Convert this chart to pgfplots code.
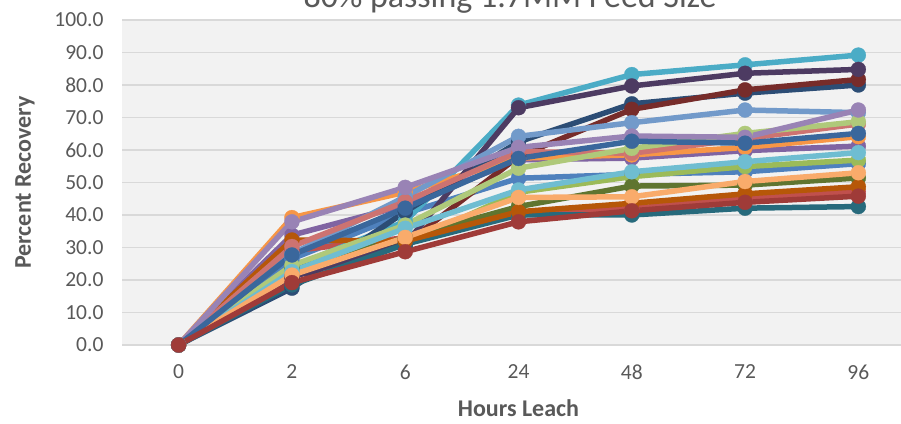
\documentclass[border=0pt]{standalone}
\usepackage{fontspec}
\setmainfont{Carlito}
\usepackage{pgfplots}
\pgfplotsset{compat=1.18}
\definecolor{c1}{HTML}{4F81BD}
\definecolor{c2}{HTML}{C0504D}
\definecolor{c3}{HTML}{9BBB59}
\definecolor{c4}{HTML}{8064A2}
\definecolor{c5}{HTML}{4BACC6}
\definecolor{c6}{HTML}{F79646}
\definecolor{c7}{HTML}{2C4D75}
\definecolor{c8}{HTML}{772C2A}
\definecolor{c9}{HTML}{5F7530}
\definecolor{c10}{HTML}{4D3B62}
\definecolor{c11}{HTML}{276A7C}
\definecolor{c12}{HTML}{B65708}
\definecolor{c13}{HTML}{729ACA}
\definecolor{c14}{HTML}{CD7371}
\definecolor{c15}{HTML}{AFC97A}
\definecolor{c16}{HTML}{9983B5}
\definecolor{c17}{HTML}{6FBDD1}
\definecolor{c18}{HTML}{F9AB6B}
\definecolor{c19}{HTML}{3A679C}
\definecolor{c20}{HTML}{9F3B38}
\definecolor{bg}{HTML}{F2F2F2}
\definecolor{gridc}{HTML}{D9D9D9}
\definecolor{txt}{HTML}{595959}
\pgfplotsset{ser/.style={color=#1, line width=5.5pt, mark=*, mark size=7.5pt, mark options={fill=#1, draw=#1, line width=0.3pt}}}
\begin{document}
\begin{tikzpicture}
\useasboundingbox (0pt,0pt) rectangle (901pt,423pt);
\clip (0pt,0pt) rectangle (901pt,423pt);
\begin{axis}[
  at={(122pt,78pt)}, anchor=south west,
  scale only axis, width=793pt, height=325pt,
  xmin=-0.5, xmax=6.5, ymin=0, ymax=100,
  xtick={0,1,2,3,4,5,6}, xticklabels={0,2,6,24,48,72,96},
  ytick={0,10,...,100},
  axis background/.style={fill=bg},
  axis line style={draw=none},
  ymajorgrids,
  major grid style={draw=gridc, line width=1.5pt},
  major tick length=0pt,
  tick style={draw=none},
  /pgf/number format/assume math mode=true,
  ticklabel style={font=\fontsize{21.5}{24}\selectfont, text=txt},
  yticklabel style={/pgf/number format/.cd, fixed, fixed zerofill, precision=1, /tikz/.cd, anchor=east, xshift=-15pt},
  xticklabel style={yshift=-16pt},
  xlabel={Hours Leach},
  ylabel={Percent Recovery},
  xlabel style={font=\fontsize{24}{28}\selectfont\bfseries, text=txt, inner sep=0pt, at={(axis description cs:0.5,-0.2185)}, anchor=base},
  ylabel style={font=\fontsize{24}{28}\selectfont\bfseries, text=txt, at={(axis description cs:-0.1223,0.5)}, anchor=center},
  title={80\% passing 1.7MM Feed Size},
  title style={font=\fontsize{34}{38}\selectfont, text=txt, at={(axis description cs:0.4893,1.0185)}, anchor=base},
  clip=false,
]
\addplot[ser=c1] coordinates {(0,0) (1,26.5) (2,40.5) (3,51.3) (4,52.5) (5,53.3) (6,55.8)};
\addplot[ser=c2] coordinates {(0,0) (1,29) (2,33) (3,40) (4,42) (5,45.1) (6,47.2)};
\addplot[ser=c3] coordinates {(0,0) (1,23) (2,31) (3,47) (4,51.8) (5,54.9) (6,56.9)};
\addplot[ser=c4] coordinates {(0,0) (1,33.8) (2,43) (3,57) (4,57.5) (5,59.8) (6,61.2)};
\addplot[ser=c5] coordinates {(0,0) (1,24) (2,38) (3,73.8) (4,83.2) (5,86.2) (6,89.2)};
\addplot[ser=c6] coordinates {(0,0) (1,39.2) (2,47) (3,57.5) (4,58.5) (5,60.8) (6,64.1)};
\addplot[ser=c7] coordinates {(0,0) (1,17.5) (2,41) (3,62.5) (4,74.2) (5,77.5) (6,80.0)};
\addplot[ser=c8] coordinates {(0,0) (1,21) (2,31) (3,58) (4,72.5) (5,78.5) (6,81.7)};
\addplot[ser=c9] coordinates {(0,0) (1,24) (2,33) (3,42.6) (4,48.9) (5,49.2) (6,51.4)};
\addplot[ser=c10] coordinates {(0,0) (1,21) (2,31) (3,73) (4,79.7) (5,83.6) (6,84.8)};
\addplot[ser=c11] coordinates {(0,0) (1,18.5) (2,31) (3,40) (4,40.0) (5,42.1) (6,42.6)};
\addplot[ser=c12] coordinates {(0,0) (1,32.3) (2,32) (3,41) (4,43.6) (5,46.5) (6,48.7)};
\addplot[ser=c13] coordinates {(0,0) (1,28) (2,45.6) (3,64.2) (4,68.4) (5,72.3) (6,71.5)};
\addplot[ser=c14] coordinates {(0,0) (1,30.3) (2,44.1) (3,59.5) (4,59) (5,63.5) (6,68)};
\addplot[ser=c15] coordinates {(0,0) (1,24.5) (2,36.9) (3,54.4) (4,60.5) (5,65.1) (6,68.7)};
\addplot[ser=c16] coordinates {(0,0) (1,37.9) (2,48.5) (3,60.8) (4,64.3) (5,63.9) (6,72.3)};
\addplot[ser=c17] coordinates {(0,0) (1,22.6) (2,35.9) (3,47.7) (4,53.3) (5,56.4) (6,59.2)};
\addplot[ser=c18] coordinates {(0,0) (1,21.5) (2,33.1) (3,45.4) (4,45.6) (5,50.3) (6,53.0)};
\addplot[ser=c19] coordinates {(0,0) (1,27.7) (2,42.1) (3,57.4) (4,62.7) (5,62.1) (6,65.1)};
\addplot[ser=c20] coordinates {(0,0) (1,19.2) (2,28.7) (3,37.9) (4,41.3) (5,43.9) (6,45.8)};
\end{axis}
\end{tikzpicture}
\end{document}
